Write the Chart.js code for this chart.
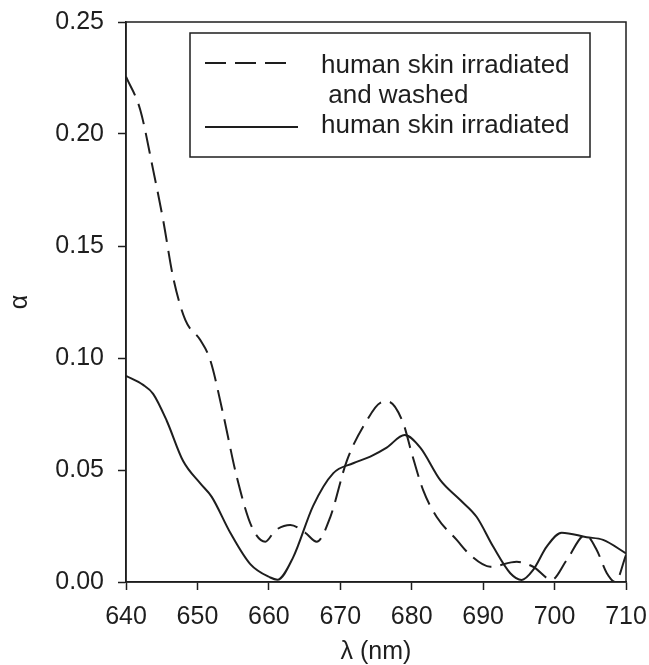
<!DOCTYPE html>
<html>
<head>
<meta charset="utf-8">
<script src="https://cdn.jsdelivr.net/npm/chart.js@4.4.1/dist/chart.umd.min.js"></script>
<style>
  html, body { margin: 0; padding: 0; background: #fff; }
  #wrap { width: 649px; height: 665px; }
</style>
</head>
<body>
<div id="wrap"><canvas id="alphaChart"></canvas></div>
<script>
// wavelength (nm) / absorption values
const washedX = [640, 642, 643.8, 645.2, 646.6, 648.3, 650.4, 651.8, 653.6, 655.5, 657.6, 659.5, 660.9, 663, 665.1, 666.7, 668.6, 670.9, 673.7, 675.6, 676.7, 678.8, 680, 681.6, 683.5, 686.3, 688.2, 691, 694.7, 697, 699.6, 701.7, 704.3, 705.9, 707.3, 708.5, 710];
const washedY = [0.2256, 0.2107, 0.184, 0.1616, 0.136, 0.117, 0.108, 0.099, 0.075, 0.047, 0.0247, 0.018, 0.023, 0.0255, 0.022, 0.018, 0.029, 0.054, 0.072, 0.080, 0.0805, 0.071, 0.0575, 0.041, 0.029, 0.0188, 0.012, 0.0068, 0.009, 0.0068, 0.001, 0.0098, 0.021, 0.0143, 0.004, 0.0, 0.012];

const irradX = [640, 642.4, 643.8, 645.7, 648, 650.4, 652, 654.6, 657.4, 660.2, 661.2, 663.4, 666.2, 669, 671.8, 674.2, 676.5, 679, 681.2, 684, 686.8, 689.1, 691.4, 693.8, 695.4, 697, 698.9, 701, 704.5, 706.8, 710];
const irradY = [0.092, 0.088, 0.084, 0.072, 0.054, 0.044, 0.038, 0.022, 0.008, 0.002, 0.001, 0.011, 0.034, 0.0485, 0.053, 0.056, 0.060, 0.0656, 0.060, 0.0455, 0.0366, 0.029, 0.0158, 0.0039, 0.0009, 0.0054, 0.0158, 0.022, 0.020, 0.0188, 0.0128];

const xTicks = [640, 650, 660, 670, 680, 690, 700, 710];
const yTicks = [0.00, 0.05, 0.10, 0.15, 0.20, 0.25];

const labelWashed = ['human skin irradiated', ' and washed'];
const labelIrrad = 'human skin irradiated';

const ink = '#1e1e1e';
const fontFamily = '"Liberation Sans", Arial, Helvetica, sans-serif';

function toPoints(xs, ys) {
  return xs.map((x, i) => ({ x: x, y: ys[i] }));
}

// box around the plot + legend box inside it
const framePlugin = {
  id: 'frame',
  afterDraw(chart) {
    const { ctx, chartArea: a } = chart;
    ctx.save();
    ctx.strokeStyle = ink;
    ctx.lineWidth = 1.5;
    ctx.strokeRect(a.left, a.top, a.right - a.left, a.bottom - a.top);

    // legend
    ctx.strokeRect(190, 33, 400, 124);
    const ds = chart.data.datasets;
    ctx.lineWidth = 2;
    ctx.setLineDash(ds[0].borderDash);
    ctx.beginPath();
    ctx.moveTo(205, 63);
    ctx.lineTo(292, 63);
    ctx.stroke();
    ctx.setLineDash([]);
    ctx.beginPath();
    ctx.moveTo(205, 127);
    ctx.lineTo(298, 127);
    ctx.stroke();

    ctx.fillStyle = ink;
    ctx.font = '26px ' + fontFamily;
    ctx.textBaseline = 'middle';
    ctx.textAlign = 'left';
    ctx.fillText(labelWashed[0], 321, 66);
    ctx.fillText(labelWashed[1], 321, 96);
    ctx.fillText(labelIrrad, 321, 126);
    ctx.restore();
  }
};

function noOverflow(s) {
  s.paddingLeft = 0;
  s.paddingRight = 0;
  s.paddingTop = 0;
  s.paddingBottom = 0;
}

new Chart(document.getElementById('alphaChart'), {
  type: 'line',
  data: {
    datasets: [
      {
        label: labelWashed.join(''),
        data: toPoints(washedX, washedY),
        borderColor: ink,
        borderWidth: 2,
        borderDash: [21, 9],
        pointRadius: 0,
        fill: false,
        cubicInterpolationMode: 'monotone'
      },
      {
        label: labelIrrad,
        data: toPoints(irradX, irradY),
        borderColor: ink,
        borderWidth: 2,
        pointRadius: 0,
        fill: false,
        cubicInterpolationMode: 'monotone'
      }
    ]
  },
  options: {
    responsive: true,
    maintainAspectRatio: false,
    animation: false,
    layout: { padding: { left: 0, right: 23, top: 22, bottom: 0 } },
    plugins: {
      legend: { display: false },
      tooltip: { enabled: false }
    },
    scales: {
      x: {
        type: 'linear',
        min: 640,
        max: 710,
        afterBuildTicks: (s) => { s.ticks = xTicks.map(v => ({ value: v })); },
        afterFit: (s) => { s.height = 83; noOverflow(s); },
        ticks: {
          color: ink,
          font: { family: fontFamily, size: 25 },
          padding: 12,
          maxRotation: 0
        },
        grid: {
          drawOnChartArea: false,
          drawTicks: true,
          tickLength: 8,
          tickColor: ink,
          tickWidth: 1.5
        },
        border: { color: ink, width: 1.5 },
        title: {
          display: true,
          text: 'λ (nm)',
          color: ink,
          font: { family: fontFamily, size: 25 },
          padding: { top: 0, bottom: -2 }
        }
      },
      y: {
        min: 0,
        max: 0.25,
        afterBuildTicks: (s) => { s.ticks = yTicks.map(v => ({ value: v })); },
        afterFit: (s) => { s.width = 126; noOverflow(s); },
        ticks: {
          color: ink,
          font: { family: fontFamily, size: 25 },
          padding: 14,
          callback: (v) => Number(v).toFixed(2)
        },
        grid: {
          drawOnChartArea: false,
          drawTicks: true,
          tickLength: 8,
          tickColor: ink,
          tickWidth: 1.5
        },
        border: { color: ink, width: 1.5 },
        title: {
          display: true,
          text: 'α',
          color: ink,
          font: { family: fontFamily, size: 25 },
          padding: { top: 5, bottom: 0 }
        }
      }
    }
  },
  plugins: [framePlugin]
});
</script>
</body>
</html>
